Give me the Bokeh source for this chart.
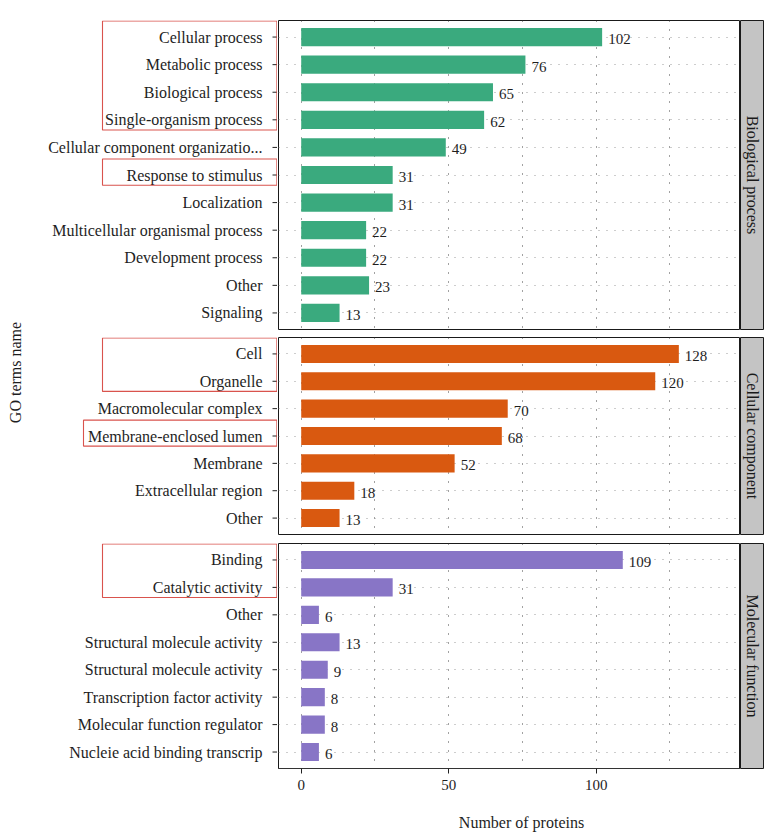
import math
from bokeh.plotting import figure
from bokeh.layouts import row, column
from bokeh.models import Range1d, FixedTicker, Grid, ColumnDataSource, LinearAxis
from bokeh.core.properties import value
from bokeh.embed import file_html
from bokeh.resources import INLINE

# ---------------- data ----------------
bp_terms = ["Cellular process", "Metabolic process", "Biological process",
            "Single-organism process", "Cellular component organizatio...",
            "Response to stimulus", "Localization",
            "Multicellular organismal process", "Development process",
            "Other", "Signaling"]
bp_counts = [102, 76, 65, 62, 49, 31, 31, 22, 22, 23, 13]

cc_terms = ["Cell", "Organelle", "Macromolecular complex",
            "Membrane-enclosed lumen", "Membrane", "Extracellular region", "Other"]
cc_counts = [128, 120, 70, 68, 52, 18, 13]

mf_terms = ["Binding", "Catalytic activity", "Other",
            "Structural molecule activity", "Structural molecule activity",
            "Transcription factor activity", "Molecular function regulator",
            "Nucleie acid binding transcrip"]
mf_counts = [109, 31, 6, 13, 9, 8, 8, 6]

facet_names = ["Biological process", "Cellular component", "Molecular function"]
facet_colors = ["#3AAA7E", "#D95910", "#8875C6"]

x_major_ticks = [0, 50, 100]
x_minor_ticks = [25, 75, 125]

# highlighted (boxed) term index ranges per facet
bp_boxes = [(0, 3), (5, 5)]
cc_boxes = [(0, 1), (3, 3)]
mf_boxes = [(0, 1)]

y_title = "GO terms name"
x_title = "Number of proteins"

# ---------------- layout / style ----------------
FONT = "Liberation Serif"
TXT = "#1e1e1e"
YLAB_W = 30
LAB_W = 247
FRAME_W = 462
STRIP_W = 24
X_RANGE = (-7.7, 148.9)
BOX_LEFT = 72          # px inside label column
BOX_LEFT_WIDE = 53     # for the long label box


def clear_grids(f):
    for g in f.grid:
        g.visible = False


def make_row(terms, counts, color, boxes, top, frame_h, bottom, show_x, name, wide_box=None):
    n = len(terms)
    pos = list(range(1, n + 1))
    src = ColumnDataSource(dict(pos=pos, count=counts, label=[str(c) for c in counts],
                                term=terms))
    h = top + frame_h + bottom
    yr = Range1d(n + 0.6, 0.4)

    # ---- label column (tick labels, ticks, red boxes)
    lab = figure(width=LAB_W, height=h, x_range=Range1d(0, LAB_W), y_range=yr,
                 x_axis_location=None, y_axis_location=None,
                 output_backend="svg", toolbar_location=None,
                 min_border_left=0, min_border_right=0,
                 min_border_top=top, min_border_bottom=bottom)
    clear_grids(lab)
    lab.outline_line_color = None
    lab.background_fill_color = "white"
    lab.border_fill_color = "white"
    lab.text(x=LAB_W - 15, y="pos", text="term", source=src,
             text_align="right", text_baseline="middle", text_font=value(FONT),
             text_font_size="16px", text_color=TXT)
    lab.segment(x0=LAB_W - 5, x1=LAB_W, y0="pos", y1="pos", source=src,
                line_color="#222222", line_width=1)
    b_left, b_right, b_top, b_bot = [], [], [], []
    for k, (a, b) in enumerate(boxes):
        b_left.append(BOX_LEFT_WIDE if (wide_box is not None and k == wide_box) else BOX_LEFT)
        b_right.append(LAB_W - 0.6)
        b_top.append(a + 1 - 0.58)
        b_bot.append(b + 1 + 0.37)
    lab.quad(left=b_left, right=b_right, top=b_top, bottom=b_bot,
             fill_color=None, line_color="#D5403A", line_width=1.1, line_alpha=0.9)

    # ---- panel
    p = figure(width=FRAME_W + 1, height=h,
               x_range=Range1d(*X_RANGE), y_range=yr,
               x_axis_location=None, y_axis_location=None,
               output_backend="svg", toolbar_location=None,
               min_border_left=1, min_border_right=0,
               min_border_top=top, min_border_bottom=bottom)
    clear_grids(p)
    p.background_fill_color = "white"
    p.border_fill_color = "white"
    p.outline_line_color = "#1a1a1a"
    p.outline_line_width = 1

    xt = FixedTicker(ticks=x_major_ticks, minor_ticks=x_minor_ticks)
    p.add_layout(Grid(dimension=0, ticker=xt, grid_line_color="#444444", grid_line_dash="1 8",
                      minor_grid_line_color="#444444", minor_grid_line_dash="1 8"))
    p.add_layout(Grid(dimension=1, ticker=FixedTicker(ticks=pos), grid_line_color="#9a9a9a",
                      grid_line_dash="1 7"))

    p.hbar(y="pos", left=0, right="count", height=0.66, fill_color=color,
           line_color=None, source=src)
    p.text(x="count", y="pos", text="label", x_offset=6, y_offset=2,
           text_align="left", text_baseline="middle", text_font=value(FONT),
           text_font_size="15px", text_color=TXT, source=src)

    if show_x:
        ax = LinearAxis(ticker=FixedTicker(ticks=x_major_ticks))
        ax.major_label_text_font = FONT
        ax.major_label_text_font_size = "15px"
        ax.major_label_text_color = TXT
        ax.major_tick_out = 5
        ax.major_tick_in = 0
        ax.minor_tick_line_color = None
        ax.axis_line_color = "#333333"
        ax.major_tick_line_color = "#222222"
        ax.major_label_standoff = 6
        p.add_layout(ax, "below")

    # ---- strip
    s = figure(width=STRIP_W, height=h,
               x_range=Range1d(0, 1), y_range=Range1d(0, 1),
               x_axis_location=None, y_axis_location=None,
               output_backend="svg", toolbar_location=None,
               min_border_left=0, min_border_right=0,
               min_border_top=top, min_border_bottom=bottom)
    clear_grids(s)
    s.background_fill_color = "#C4C4C4"
    s.border_fill_color = "white"
    s.outline_line_color = "#1a1a1a"
    s.text(x=[0.5], y=[0.5], text=[name], angle=-math.pi / 2,
           text_align="center", text_baseline="middle", text_font=value(FONT),
           text_font_size="16px", text_color="#1a1a1a")
    return row(lab, p, s)


panels_spec = [
    (bp_terms, bp_counts, bp_boxes, 20, 309, 8, False, None),
    (cc_terms, cc_counts, cc_boxes, 0, 197, 9, False, 1),
    (mf_terms, mf_counts, mf_boxes, 0, 225, 32, True, None),
]

rows = []
for i, (terms, counts, boxes, top, fh, bot, showx, wide) in enumerate(panels_spec):
    rows.append(make_row(terms, counts, facet_colors[i], boxes, top, fh, bot, showx,
                         facet_names[i], wide))

XL_H = 36
total_w = LAB_W + FRAME_W + 1 + STRIP_W
xl = figure(width=total_w, height=XL_H, x_range=Range1d(0, total_w), y_range=Range1d(XL_H, 0),
            x_axis_location=None, y_axis_location=None, output_backend="svg",
            toolbar_location=None, min_border=0)
clear_grids(xl)
xl.outline_line_color = None
xl.text(x=[521 - YLAB_W], y=[22], text=[x_title],
        text_align="center", text_baseline="middle", text_font=value(FONT),
        text_font_size="16px", text_color=TXT)

total_h = sum(t + f + b for (_, _, _, t, f, b, _, _) in panels_spec) + XL_H
yl = figure(width=YLAB_W, height=total_h, x_range=Range1d(0, YLAB_W), y_range=Range1d(total_h, 0),
            x_axis_location=None, y_axis_location=None, output_backend="svg",
            toolbar_location=None, min_border=0)
clear_grids(yl)
yl.outline_line_color = None
yl.text(x=[15], y=[372], text=[y_title], angle=math.pi / 2,
        text_align="center", text_baseline="middle", text_font=value(FONT),
        text_font_size="16px", text_color=TXT)

layout = row(yl, column(*rows, xl))

open("out.html", "w").write(file_html(layout, INLINE))
